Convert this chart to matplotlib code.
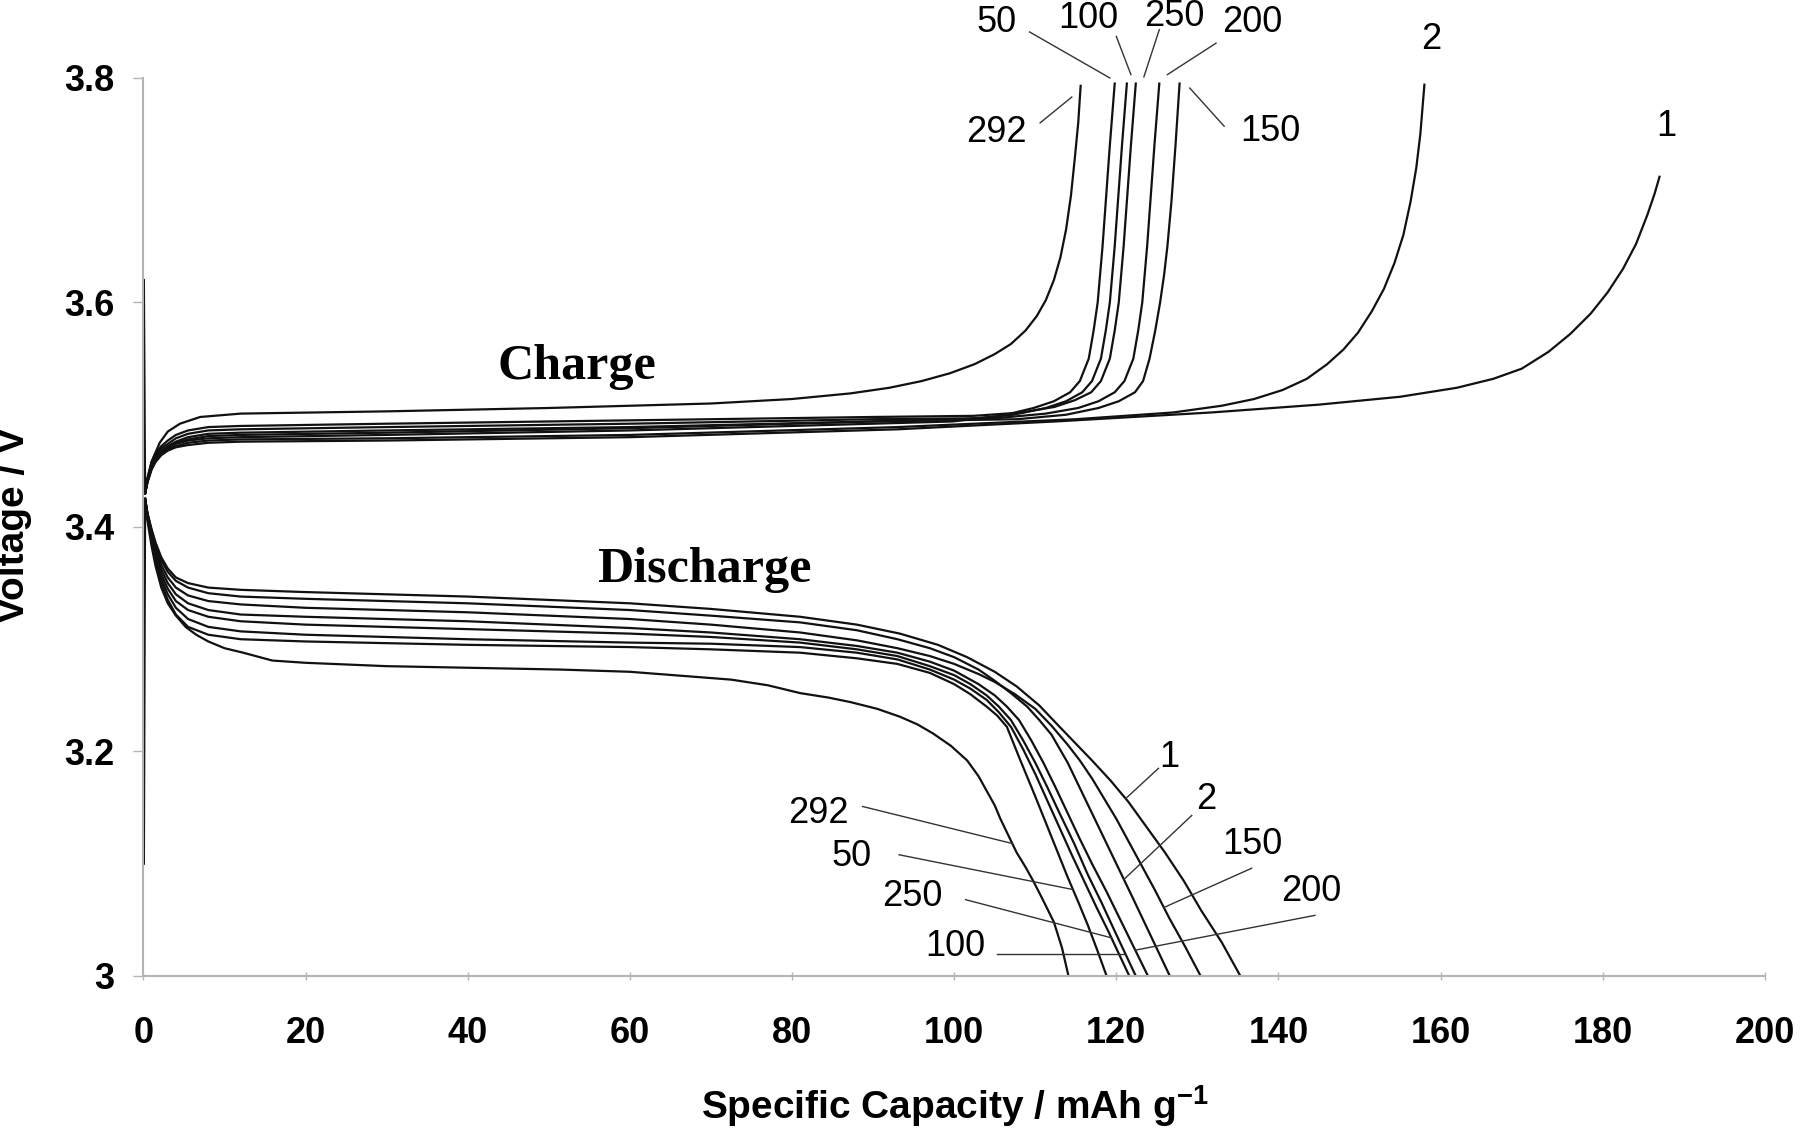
import numpy as np
import matplotlib
matplotlib.use('Agg')
import matplotlib.pyplot as plt

plt.rcParams['font.family'] = ['Liberation Sans', 'DejaVu Sans']
plt.rcParams['mathtext.fontset'] = 'custom'
plt.rcParams['mathtext.rm'] = 'Liberation Sans'
plt.rcParams['mathtext.bf'] = 'Liberation Sans:bold'

# charge curves (capacity mAh/g, voltage V)
chg_1 = [(0.05, 3.62), (0.2, 3.43), (0.5, 3.44), (1, 3.451), (1.5, 3.458), (2.2, 3.464), (3, 3.468),
         (4, 3.471), (5.5, 3.473), (8, 3.475), (12, 3.476), (30, 3.477), (60, 3.48), (93, 3.487),
         (112.5, 3.494), (131.7, 3.502), (145, 3.509), (155, 3.516), (162, 3.524), (166.5, 3.532),
         (170, 3.541), (173.3, 3.556), (176, 3.572), (178.5, 3.59), (180.6, 3.609), (182.5, 3.63),
         (184.1, 3.652), (185.5, 3.678), (186.4, 3.697), (187, 3.712)]
chg_2 = [(0.2, 3.43), (0.5, 3.44), (1, 3.452), (1.5, 3.459), (2.2, 3.465), (3, 3.469), (4, 3.472),
         (5.5, 3.475), (8, 3.477), (12, 3.478), (30, 3.479), (60, 3.482), (93, 3.489), (115, 3.496),
         (127, 3.502), (133, 3.508), (137, 3.514), (140.5, 3.522), (143.5, 3.532), (146, 3.545),
         (148, 3.558), (149.8, 3.573), (151.5, 3.592), (153, 3.612), (154.3, 3.635), (155.4, 3.66),
         (156.3, 3.69), (157, 3.72), (157.5, 3.75), (158, 3.794)]
chg_50 = [(0.2, 3.43), (0.5, 3.441), (1, 3.453), (1.5, 3.46), (2.2, 3.466), (3, 3.47), (4, 3.474),
          (5.5, 3.477), (8, 3.479), (12, 3.48), (30, 3.482), (60, 3.486), (90, 3.492), (99.8, 3.494),
          (105.8, 3.499), (109.8, 3.506), (112.3, 3.512), (114.3, 3.52), (115.5, 3.53), (116.6, 3.55),
          (117.2, 3.575), (117.7, 3.60), (118, 3.625), (118.3, 3.65), (118.7, 3.69), (119.2, 3.74),
          (119.8, 3.795)]
chg_100 = [(0.2, 3.43), (0.5, 3.441), (1, 3.454), (1.5, 3.461), (2.2, 3.467), (3, 3.471), (4, 3.475),
           (5.5, 3.478), (8, 3.481), (12, 3.482), (30, 3.484), (60, 3.488), (90, 3.494), (101.3, 3.496),
           (107.3, 3.50), (111.3, 3.506), (113.8, 3.512), (115.8, 3.52), (117, 3.53), (118.1, 3.55),
           (118.7, 3.575), (119.2, 3.60), (119.5, 3.625), (119.8, 3.65), (120.2, 3.69), (120.7, 3.74),
           (121.3, 3.795)]
chg_150 = [(0.2, 3.43), (0.5, 3.442), (1, 3.455), (1.5, 3.462), (2.2, 3.468), (3, 3.472), (4, 3.476),
           (5.5, 3.48), (8, 3.483), (12, 3.484), (30, 3.486), (60, 3.489), (90, 3.494), (107.8, 3.496),
           (113.8, 3.50), (117.8, 3.506), (120.3, 3.512), (122.3, 3.52), (123.3, 3.53), (124.1, 3.55),
           (124.8, 3.575), (125.4, 3.60), (125.9, 3.625), (126.3, 3.65), (126.8, 3.69), (127.3, 3.74),
           (127.8, 3.795)]
chg_200 = [(0.2, 3.43), (0.5, 3.443), (1, 3.456), (1.5, 3.464), (2.2, 3.47), (3, 3.474), (4, 3.479),
           (5.5, 3.483), (8, 3.486), (12, 3.487), (30, 3.489), (60, 3.492), (90, 3.496), (105.3, 3.497),
           (111.3, 3.501), (115.3, 3.506), (117.8, 3.512), (119.8, 3.52), (121, 3.53), (122.1, 3.55),
           (122.7, 3.575), (123.2, 3.60), (123.5, 3.625), (123.8, 3.65), (124.2, 3.69), (124.7, 3.74),
           (125.3, 3.795)]
chg_250 = [(0.2, 3.43), (0.5, 3.444), (1, 3.458), (1.5, 3.466), (2.2, 3.472), (3, 3.477), (4, 3.482),
           (5.5, 3.486), (8, 3.489), (12, 3.49), (30, 3.492), (60, 3.495), (90, 3.498), (102.4, 3.499),
           (108.4, 3.502), (112.4, 3.507), (114.9, 3.513), (116.9, 3.52), (118.1, 3.53), (119.2, 3.55),
           (119.8, 3.575), (120.3, 3.60), (120.6, 3.625), (120.9, 3.65), (121.3, 3.69), (121.8, 3.74),
           (122.4, 3.795)]
chg_292 = [(0.2, 3.43), (0.5, 3.443), (1, 3.458), (2, 3.475), (3, 3.485), (4.5, 3.492), (7, 3.498),
           (12, 3.501), (30, 3.503), (50, 3.506), (70, 3.51), (80, 3.514), (87.2, 3.519), (92, 3.524),
           (96, 3.53), (99.5, 3.537), (102.5, 3.545), (105, 3.554), (107, 3.563), (108.8, 3.575),
           (110.2, 3.588), (111.3, 3.602), (112.3, 3.62), (113.1, 3.64), (113.8, 3.665), (114.4, 3.695),
           (114.9, 3.73), (115.3, 3.76), (115.6, 3.793)]

# discharge curves
dis_1 = [(0.05, 3.10), (0.2, 3.425), (0.5, 3.412), (1, 3.398), (1.5, 3.386), (2.2, 3.373), (3, 3.363),
         (4, 3.355), (5.5, 3.35), (8, 3.346), (12, 3.344), (20, 3.342), (40, 3.338), (60, 3.332),
         (70, 3.327), (81, 3.320), (88, 3.313), (93.3, 3.305), (98, 3.295), (101.6, 3.284), (105, 3.271),
         (107.7, 3.258), (110.5, 3.241), (113, 3.222), (115, 3.207), (117, 3.192), (119.3, 3.174),
         (121.5, 3.155), (124, 3.13), (126, 3.11), (128.3, 3.085), (130.5, 3.058), (133, 3.03), (135.3, 3.0)]
dis_2 = [(0.2, 3.425), (0.5, 3.412), (1, 3.397), (1.5, 3.384), (2.2, 3.37), (3, 3.36), (4, 3.352),
         (5.5, 3.346), (8, 3.341), (12, 3.338), (20, 3.336), (40, 3.332), (60, 3.326), (70, 3.321),
         (81, 3.315), (88, 3.308), (93, 3.30), (97, 3.292), (100, 3.284), (103, 3.273), (105, 3.263),
         (107, 3.252), (109, 3.24), (110.5, 3.228), (112, 3.215), (114, 3.19), (116, 3.16), (118, 3.13),
         (120, 3.10), (122, 3.07), (124.3, 3.035), (126.6, 3.0)]
dis_50 = [(0.2, 3.425), (0.5, 3.408), (1, 3.388), (1.5, 3.37), (2.2, 3.35), (3, 3.335), (4, 3.322),
          (5.5, 3.311), (8, 3.304), (12, 3.30), (20, 3.298), (40, 3.295), (60, 3.293), (70, 3.291),
          (81, 3.288), (88, 3.283), (93, 3.278), (97, 3.27), (100, 3.26), (102, 3.251), (104, 3.24),
          (105.3, 3.232), (106.5, 3.222), (108, 3.195), (110, 3.16), (112, 3.124), (114, 3.088),
          (115.3, 3.066), (116.5, 3.045), (117.7, 3.022), (118.8, 3.0)]
dis_100 = [(0.2, 3.425), (0.5, 3.41), (1, 3.392), (1.5, 3.376), (2.2, 3.358), (3, 3.345), (4, 3.334),
           (5.5, 3.326), (8, 3.32), (12, 3.316), (20, 3.313), (40, 3.309), (60, 3.305), (70, 3.302),
           (81, 3.297), (88, 3.291), (93, 3.285), (97, 3.276), (100, 3.268), (102, 3.26), (104, 3.25),
           (105.5, 3.24), (107, 3.228), (108.5, 3.21), (110, 3.19), (111.5, 3.168), (113, 3.145),
           (114.8, 3.118), (116.5, 3.09), (118.2, 3.065), (119.8, 3.04), (121.1, 3.02), (122.4, 3.0)]
dis_150 = [(0.2, 3.425), (0.5, 3.411), (1, 3.395), (1.5, 3.381), (2.2, 3.366), (3, 3.355), (4, 3.346),
           (5.5, 3.339), (8, 3.334), (12, 3.331), (20, 3.328), (40, 3.324), (60, 3.318), (70, 3.313),
           (81, 3.306), (88, 3.299), (93, 3.292), (97, 3.285), (100, 3.278), (103, 3.269), (105, 3.262),
           (107.5, 3.251), (110, 3.238), (112, 3.223), (114, 3.206), (115.5, 3.192), (117, 3.176),
           (118.5, 3.158), (120, 3.14), (121.5, 3.12), (123, 3.10), (124.8, 3.076), (126.5, 3.052),
           (128.5, 3.026), (130.4, 3.0)]
dis_200 = [(0.2, 3.425), (0.5, 3.41), (1, 3.393), (1.5, 3.378), (2.2, 3.362), (3, 3.35), (4, 3.34),
           (5.5, 3.332), (8, 3.326), (12, 3.322), (20, 3.32), (40, 3.316), (60, 3.31), (70, 3.306),
           (81, 3.30), (88, 3.294), (93, 3.288), (97, 3.28), (100, 3.272), (103, 3.26), (105, 3.25),
           (106.5, 3.24), (108, 3.228), (109.5, 3.21), (111, 3.19), (112.5, 3.168), (114, 3.145),
           (115.5, 3.122), (117, 3.1), (118.8, 3.075), (120.5, 3.05), (122.2, 3.025), (123.9, 3.0)]
dis_250 = [(0.2, 3.425), (0.5, 3.409), (1, 3.39), (1.5, 3.373), (2.2, 3.354), (3, 3.34), (4, 3.328),
           (5.5, 3.318), (8, 3.311), (12, 3.307), (20, 3.304), (40, 3.30), (60, 3.297), (70, 3.296),
           (81, 3.293), (88, 3.288), (93, 3.282), (97, 3.273), (100, 3.264), (102, 3.256), (104, 3.246),
           (105.5, 3.235), (107, 3.222), (108.5, 3.202), (110, 3.18), (111.5, 3.156), (113, 3.132),
           (114.5, 3.108), (116, 3.085), (117.5, 3.062), (119, 3.04), (120.3, 3.02), (121.6, 3.0)]
dis_292 = [(0.2, 3.425), (0.5, 3.405), (1, 3.383), (1.5, 3.365), (2.2, 3.346), (3, 3.332), (4, 3.321),
           (5.2, 3.311), (6.5, 3.304), (8, 3.298), (10, 3.292), (12.3, 3.288), (15.9, 3.281), (20, 3.279),
           (30, 3.276), (51.3, 3.273), (60, 3.271), (72.5, 3.264), (77, 3.259), (81, 3.252), (84.5, 3.248),
           (87.2, 3.244), (90.5, 3.238), (93.3, 3.231), (95.5, 3.224), (97.4, 3.216), (99.6, 3.205),
           (101.6, 3.192), (103, 3.178), (104, 3.165), (105, 3.152), (105.7, 3.14), (106.7, 3.125),
           (107.7, 3.11), (108.8, 3.097), (109.8, 3.084), (111, 3.067), (112.3, 3.048), (113.3, 3.025),
           (114.1, 3.0)]

cycles = ['1', '2', '50', '100', '150', '200', '250', '292']
charge = dict(zip(cycles, [chg_1, chg_2, chg_50, chg_100, chg_150, chg_200, chg_250, chg_292]))
discharge = dict(zip(cycles, [dis_1, dis_2, dis_50, dis_100, dis_150, dis_200, dis_250, dis_292]))

x_ticks = [0, 20, 40, 60, 80, 100, 120, 140, 160, 180, 200]
y_ticks = [3.0, 3.2, 3.4, 3.6, 3.8]
y_tick_labels = ['3', '3.2', '3.4', '3.6', '3.8']


def x_at(pts, v):
    a = np.array(pts)
    a = a[a[:, 0] > 0.5]
    order = np.argsort(a[:, 1])
    return np.interp(v, a[order, 1], a[order, 0])


fig = plt.figure(figsize=(18, 11.3), dpi=100)
ax = fig.add_axes([0.0797, 0.1363, 0.9008, 0.7947])

for c in cycles:
    for pts in (charge[c], discharge[c]):
        a = np.array(pts)
        ax.plot(a[:, 0], a[:, 1], color='#111111', lw=1.6, solid_joinstyle='round')

ax.set_xlim(0, 200)
ax.set_ylim(3.0, 3.8)
ax.set_xticks(x_ticks)
ax.set_yticks(y_ticks)
ax.set_yticklabels(y_tick_labels)
for s in ['top', 'right']:
    ax.spines[s].set_visible(False)
for s in ['left', 'bottom']:
    ax.spines[s].set_color('#b4b4b4')
    ax.spines[s].set_linewidth(1.5)
ax.tick_params(axis='x', direction='inout', length=6, width=1, color='#b4b4b4', labelsize=26, pad=26)
ax.tick_params(axis='y', direction='out', length=7, width=1, color='#b4b4b4', labelsize=26, pad=14)
for t in ax.get_xticklabels() + ax.get_yticklabels():
    t.set_fontweight('bold')

# cycle labels on the charge curves (top)
lab_kw = dict(fontsize=26, ha='center', va='center', clip_on=False)
chg_leaders = [('50', (105.2, 3.849), (109.3, 3.841), 3.800, -0.6),
               ('100', (116.5, 3.853), (120.0, 3.837), 3.803, 0.5),
               ('250', (127.2, 3.855), (125.3, 3.843), 3.801, 1.0),
               ('200', (136.8, 3.849), (132.3, 3.831), 3.803, 1.0),
               ('292', (105.2, 3.751), (110.6, 3.760), 3.783, -1.0),
               ('150', (139.0, 3.752), (133.3, 3.757), 3.791, 1.3)]
for c, txt, start, v, dx in chg_leaders:
    ax.text(txt[0], txt[1], c, **lab_kw)
    xe = x_at(charge[c], v) + dx
    ax.plot([start[0], xe], [start[1], v], color='#333333', lw=1.0, clip_on=False)
ax.text(158.8, 3.834, '2', **lab_kw)
ax.text(187.8, 3.757, '1', **lab_kw)

# cycle labels on the discharge curves
dis_leaders = [('292', (83.3, 3.145), (88.7, 3.151), 3.118),
               ('50', (87.4, 3.106), (93.2, 3.108), 3.077),
               ('250', (94.8, 3.071), (101.4, 3.068), 3.034),
               ('100', (100.2, 3.026), (105.3, 3.020), 3.020),
               ('1', (126.5, 3.195), (125.2, 3.185), 3.158),
               ('2', (131.1, 3.157), (129.3, 3.143), 3.086),
               ('150', (136.8, 3.117), (136.7, 3.096), 3.061),
               ('200', (144.1, 3.075), (144.5, 3.054), 3.023)]
for c, txt, start, v in dis_leaders:
    ax.text(txt[0], txt[1], c, **lab_kw)
    xe = x_at(discharge[c], v)
    ax.plot([start[0], xe], [start[1], v], color='#333333', lw=1.0)

ax.text(53.4, 3.532, 'Charge', fontsize=36, fontweight='bold', family='Liberation Serif',
        ha='center', va='baseline')
ax.text(69.2, 3.351, 'Discharge', fontsize=36, fontweight='bold', family='Liberation Serif',
        ha='center', va='baseline')

fig.text(0.5306, 0.021, r'Specific Capacity / mAh g$^{\mathbf{-1}}$', fontsize=28, fontweight='bold',
         ha='center', va='center')
fig.text(0.008, 0.535, 'Voltage / V', fontsize=28, fontweight='bold', rotation=90,
         ha='center', va='center')

fig.savefig('out.png', dpi=100)
